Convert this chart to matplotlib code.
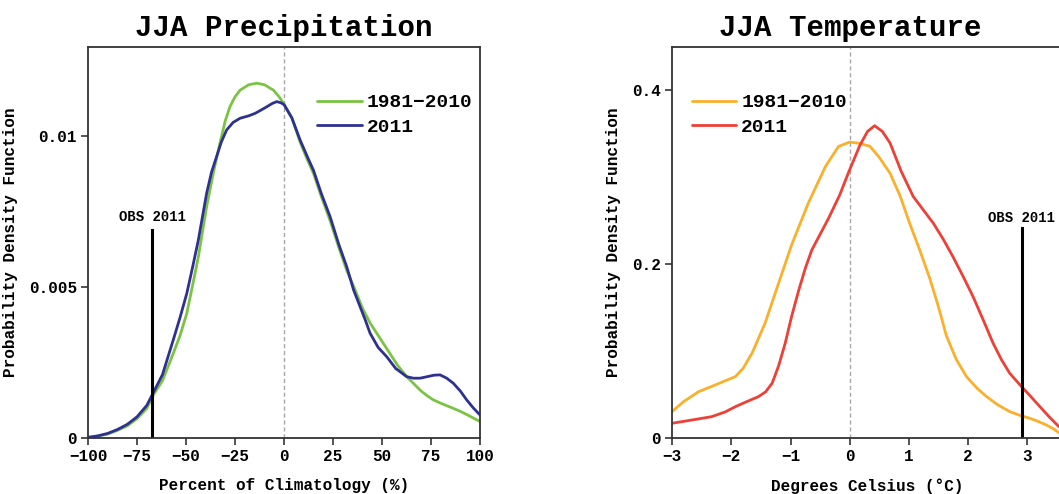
import matplotlib
matplotlib.use("Agg")
import matplotlib.pyplot as plt

plt.rcParams['font.family'] = ['Liberation Mono', 'DejaVu Sans Mono']
plt.rcParams['font.weight'] = 'bold'
plt.rcParams['axes.titleweight'] = 'bold'
plt.rcParams['axes.labelweight'] = 'bold'

# JJA precipitation PDFs (percent of climatology)
precip_clim_x = [-100, -95, -90, -85, -80, -75, -70, -66.7, -62, -56.5, -53, -49.6, -46.5, -43.7,
                 -39.5, -36, -32.7, -30, -27.6, -25, -22.4, -18, -13.9, -10, -5.4, -2.5, 0, 4,
                 8.2, 12, 15, 19, 23.5, 28, 32, 36, 40, 44, 47.3, 50, 54, 58, 62.6, 66, 70, 73,
                 76.2, 80, 83, 86.4, 90, 94, 98.3, 100]
precip_clim = [0.00002, 0.00006, 0.00013, 0.00025, 0.00040, 0.00064, 0.00098, 0.00142, 0.00190,
               0.00280, 0.00340, 0.00413, 0.00510, 0.00600, 0.00766, 0.00880, 0.00976, 0.01050,
               0.01097, 0.01130, 0.01152, 0.01170, 0.01175, 0.01170, 0.01152, 0.01130, 0.01106,
               0.01060, 0.00980, 0.00920, 0.00877, 0.00800, 0.00720, 0.00630, 0.00555, 0.00495,
               0.00430, 0.00380, 0.00347, 0.00320, 0.00280, 0.00240, 0.00203, 0.00181, 0.00155,
               0.00140, 0.00126, 0.00115, 0.00107, 0.00098, 0.00088, 0.00075, 0.00060, 0.00055]
precip_2011_x = [-100, -95, -90, -85, -80, -75, -70, -66.7, -62, -56.5, -53, -49.6, -46.5, -43.7,
                 -39.5, -37, -34.4, -32, -29.3, -26, -22.4, -18, -14.8, -12, -8.8, -6, -3.7, -1.5,
                 0, 4, 8.2, 12, 15, 19, 23.5, 28, 32, 35.5, 38.8, 41.5, 43.9, 48, 52.4, 57, 62.6,
                 66, 69.4, 73, 76.5, 79.6, 83, 86.4, 90, 93.2, 96.5, 100]
precip_2011 = [0.00002, 0.00007, 0.00015, 0.00028, 0.00045, 0.00070, 0.00108, 0.00150, 0.00210,
               0.00325, 0.00400, 0.00479, 0.00570, 0.00656, 0.00810, 0.00880, 0.00932, 0.00980,
               0.01020, 0.01045, 0.01059, 0.01067, 0.01075, 0.01085, 0.01097, 0.01108, 0.01114,
               0.01110, 0.01104, 0.01060, 0.00987, 0.00930, 0.00887, 0.00810, 0.00733, 0.00640,
               0.00567, 0.00490, 0.00435, 0.00390, 0.00347, 0.00300, 0.00269, 0.00230, 0.00203,
               0.00198, 0.00198, 0.00203, 0.00208, 0.00209, 0.00198, 0.00181, 0.00155, 0.00126,
               0.00100, 0.00076]
precip_obs = -67.3

# JJA temperature PDFs (degrees Celsius)
temp_clim_x = [-3.0, -2.8, -2.55, -2.27, -1.93, -1.8, -1.65, -1.43, -1.2, -0.98, -0.7, -0.41,
               -0.19, 0.0, 0.15, 0.34, 0.5, 0.68, 0.85, 1.01, 1.18, 1.35, 1.5, 1.63, 1.8, 1.97,
               2.15, 2.31, 2.5, 2.7, 2.87, 3.04, 3.18, 3.32, 3.45, 3.53]
temp_clim = [0.0303, 0.042, 0.0532, 0.0609, 0.0705, 0.080, 0.0973, 0.1318, 0.178, 0.222,
             0.2697, 0.3118, 0.3348, 0.3398, 0.3385, 0.335, 0.322, 0.304, 0.278, 0.2467, 0.216,
             0.1834, 0.150, 0.1175, 0.090, 0.0705, 0.057, 0.0475, 0.038, 0.0303, 0.026, 0.0226,
             0.019, 0.0149, 0.010, 0.0061]
temp_2011_x = [-3.0, -2.66, -2.33, -2.1, -1.93, -1.73, -1.54, -1.42, -1.31, -1.2, -1.09, -0.98,
               -0.86, -0.75, -0.64, -0.5, -0.36, -0.17, -0.02, 0.17, 0.3, 0.42, 0.55, 0.68, 0.87,
               1.07, 1.24, 1.41, 1.58, 1.74, 1.91, 2.08, 2.25, 2.42, 2.56, 2.7, 2.9, 3.05, 3.21,
               3.37, 3.53]
temp_2011 = [0.0169, 0.0207, 0.0245, 0.030, 0.036, 0.042, 0.0475, 0.053, 0.0629, 0.083, 0.1088,
             0.140, 0.170, 0.195, 0.216, 0.234, 0.252, 0.279, 0.305, 0.336, 0.352, 0.3586,
             0.352, 0.3387, 0.306, 0.2774, 0.262, 0.2467, 0.228, 0.2084, 0.186, 0.1625, 0.136,
             0.1088, 0.090, 0.0743, 0.059, 0.048, 0.036, 0.024, 0.013]
temp_obs = 2.9

fig = plt.figure(figsize=(10.59, 4.94), dpi=100)
ax1 = fig.add_axes([0.0831, 0.1134, 0.3702, 0.7915])
ax2 = fig.add_axes([0.6346, 0.1134, 0.3692, 0.7915])

line_kw = dict(linewidth=2.0, solid_joinstyle='round', solid_capstyle='round')

# precipitation panel
ax1.axvline(0, color='#a8a8a8', linestyle='--', linewidth=1.0, dashes=(3, 2))
ax1.plot(precip_clim_x, precip_clim, color='#7bc443', label='1981\u22122010', **line_kw)
ax1.plot(precip_2011_x, precip_2011, color='#2e3192', label='2011', **line_kw)
ax1.plot([precip_obs, precip_obs], [0, 0.0069], color='black', linewidth=2.2)
ax1.text(precip_obs, 0.0071, 'OBS 2011', ha='center', va='bottom', fontsize=10)
ax1.set_xlim(-100, 100)
ax1.set_ylim(0, 0.01295)
ax1.set_xticks([-100, -75, -50, -25, 0, 25, 50, 75, 100])
ax1.set_yticks([0, 0.005, 0.01])
ax1.set_yticklabels(['0', '0.005', '0.01'])
ax1.set_title('JJA Precipitation', fontsize=21, pad=8)
ax1.set_xlabel('Percent of Climatology (%)', fontsize=11.5, labelpad=10)
ax1.set_ylabel('Probability Density Function', fontsize=11.5, labelpad=8)
ax1.legend(loc='upper right', bbox_to_anchor=(1.0, 0.9), frameon=False, fontsize=14,
           handlelength=2.3, handletextpad=0.25, labelspacing=0.35, borderaxespad=0)

# temperature panel
ax2.axvline(0, color='#a8a8a8', linestyle='--', linewidth=1.0, dashes=(3, 2))
ax2.plot(temp_clim_x, temp_clim, color='#fbb02c', label='1981\u22122010', **line_kw)
ax2.plot(temp_2011_x, temp_2011, color='#ee4036', label='2011', **line_kw)
ax2.plot([temp_obs, temp_obs], [0, 0.241], color='black', linewidth=2.2)
ax2.text(temp_obs, 0.245, 'OBS 2011', ha='center', va='bottom', fontsize=10)
ax2.set_xlim(-3, 3.6)
ax2.set_ylim(0, 0.449)
ax2.set_xticks([-3, -2, -1, 0, 1, 2, 3])
ax2.set_yticks([0, 0.2, 0.4])
ax2.set_yticklabels(['0', '0.2', '0.4'])
ax2.set_title('JJA Temperature', fontsize=21, pad=8, x=0.455)
ax2.set_xlabel('Degrees Celsius (\u00b0C)', fontsize=11.5, labelpad=10)
ax2.set_ylabel('Probability Density Function', fontsize=11.5, labelpad=8)
ax2.legend(loc='upper left', bbox_to_anchor=(0.03, 0.9), frameon=False, fontsize=14,
           handlelength=2.3, handletextpad=0.25, labelspacing=0.35, borderaxespad=0)

for ax in (ax1, ax2):
    for side in ax.spines.values():
        side.set_color('#333333')
        side.set_linewidth(1.3)
    ax.tick_params(direction='out', length=5, width=1.2, color='#333333',
                   labelsize=11.5, pad=3, top=False, right=False)

fig.savefig('out.png', dpi=100)
